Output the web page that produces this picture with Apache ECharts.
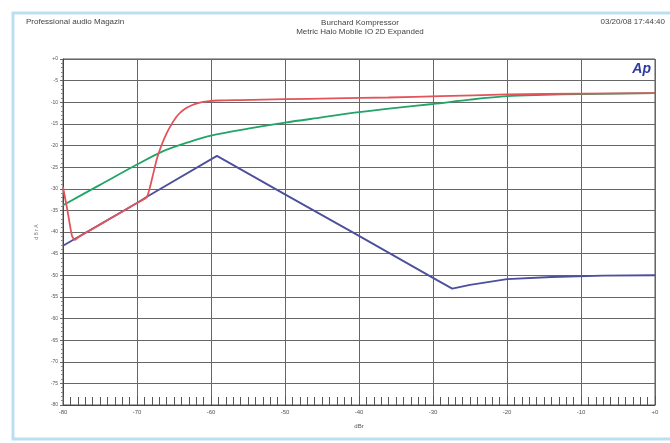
<!DOCTYPE html>
<html>
<head>
<meta charset="utf-8">
<style>
  html, body { margin: 0; padding: 0; background: #fff; }
  #chart { width: 670px; height: 443px; }
</style>
<script src="https://cdn.jsdelivr.net/npm/echarts@6/dist/echarts.min.js"></script>
</head>
<body>
<div id="chart"></div>
<script>
// Input level (dBr) and output level (dBr) for each trace
const redIn  = [-80, -79.4, -78.8, -78.4, -78, -76, -74, -72, -70, -68.7, -68.3, -67.8, -67.3, -66.7, -66, -65.3, -64.5, -63.6, -62.6, -61.5, -60.5, -59, -56, -50, -43.5, -36, -29, -20, -10, 0];
const redOut = [-29.6, -35, -40.8, -41.8, -41.3, -39.3, -37.3, -35.3, -33.3, -32, -30, -26.5, -23, -20, -17.2, -15, -13, -11.6, -10.7, -10.1, -9.8, -9.6, -9.5, -9.3, -9.1, -8.9, -8.6, -8.2, -8.0, -7.9];

const greenIn  = [-80, -75, -70, -66.6, -63, -60, -55, -50, -45, -40, -35, -30, -25, -20, -15, -10, -5, 0];
const greenOut = [-33.8, -29.1, -24.4, -21.4, -19.2, -17.7, -16.1, -14.7, -13.5, -12.3, -11.3, -10.4, -9.4, -8.6, -8.3, -8.1, -8.0, -7.9];

const blueIn  = [-80, -70, -68.6, -59.2, -50, -40, -30, -27.4, -25, -20, -14, -7, 0];
const blueOut = [-43.2, -33.3, -31.8, -22.4, -31.3, -40.9, -50.6, -53.1, -52.2, -50.9, -50.4, -50.1, -50.0];

const xTicks = [-80, -70, -60, -50, -40, -30, -20, -10, 0];
const yTicks = [0, -5, -10, -15, -20, -25, -30, -35, -40, -45, -50, -55, -60, -65, -70, -75, -80];

const headerLeft = 'Professional audio Magazin';
const headerTitle = ['Burchard Kompressor', 'Metric Halo Mobile IO 2D Expanded'];
const headerRight = '03/20/08 17:44:40';

function pairs(xs, ys) { return xs.map((x, i) => [x, ys[i]]); }
function fmt(v) { return v === 0 ? '+0' : String(v); }

const chart = echarts.init(document.getElementById('chart'));
const font = 'Liberation Sans, Arial, sans-serif';

chart.setOption({
  backgroundColor: '#ffffff',
  animation: false,
  grid: { left: 63, right: 15, top: 59, bottom: 38, show: true, borderColor: '#555', borderWidth: 1 },
  xAxis: {
    type: 'value', min: -80, max: 0, interval: 10,
    name: 'dBr', nameLocation: 'middle', nameGap: 18,
    nameTextStyle: { fontSize: 6, color: '#555', fontFamily: font },
    axisLine: { show: true, onZero: false, lineStyle: { color: '#444' } },
    axisTick: { show: true, inside: true, length: 9, lineStyle: { color: '#555' } },
    minorTick: { show: true, splitNumber: 10, length: 8, lineStyle: { color: '#555' } },
    axisLabel: { fontSize: 6, color: '#555', fontFamily: font, margin: 4,
      formatter: v => xTicks.includes(v) ? fmt(v) : '' },
    splitLine: { show: true, lineStyle: { color: '#666', width: 1 } }
  },
  yAxis: {
    type: 'value', min: -80, max: 0, interval: 5,
    name: 'd B r A', nameLocation: 'middle', nameGap: 24, nameRotate: 90,
    nameTextStyle: { fontSize: 5, color: '#777', fontFamily: font },
    axisLine: { show: true, onZero: false, lineStyle: { color: '#444' } },
    axisTick: { show: true, inside: false, length: 3, lineStyle: { color: '#666' } },
    minorTick: { show: true, splitNumber: 5, length: 2, lineStyle: { color: '#888' } },
    axisLabel: { fontSize: 5, color: '#555', fontFamily: font, margin: 5,
      formatter: v => yTicks.includes(v) ? fmt(v) : '' },
    splitLine: { show: true, lineStyle: { color: '#666', width: 1 } }
  },
  series: [
    { type: 'line', name: 'green', data: pairs(greenIn, greenOut), showSymbol: false, smooth: 0.3,
      lineStyle: { color: '#22a468', width: 1.8 } },
    { type: 'line', name: 'blue', data: pairs(blueIn, blueOut), showSymbol: false,
      lineStyle: { color: '#4c4f9c', width: 1.8 } },
    { type: 'line', name: 'red', data: pairs(redIn, redOut), showSymbol: false, smooth: 0.2,
      lineStyle: { color: '#e2545a', width: 1.8 } }
  ],
  graphic: [
    { type: 'rect', silent: true, shape: { x: 13, y: 13, width: 700, height: 426 },
      style: { fill: 'none', stroke: '#bcdff0', lineWidth: 3 } },
    { type: 'text', left: 26, top: 18, style: { text: headerLeft, fill: '#444', font: '8px ' + font } },
    { type: 'text', x: 360, y: 18, style: { text: headerTitle.join('\n'), fill: '#444', align: 'center', lineHeight: 9, font: '8px ' + font } },
    { type: 'text', x: 665, y: 18, style: { text: headerRight, fill: '#444', align: 'right', font: '8px ' + font } },
    { type: 'text', x: 651, y: 62, style: { text: 'Ap', fill: '#2c3a9c', align: 'right', font: 'italic bold 14px ' + font } }
  ]
});
</script>
</body>
</html>
